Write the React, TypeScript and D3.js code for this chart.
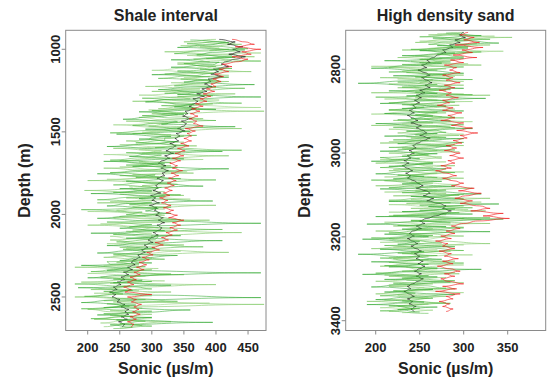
import React from "react";
import * as d3 from "d3";

// ---------- Shale interval (left panel) ----------
const shaleDepthStart = 940;
const shaleDepthStep = 15;
const shaleBlack = [
  405, 430, 418, 442, 426, 438, 420, 446, 430, 415,
  408, 420, 396, 404, 392, 410, 388, 392, 382, 394,
  378, 386, 370, 382, 364, 372, 366, 358, 368, 352,
  356, 348, 362, 346, 354, 350, 340, 352, 338, 344,
  336, 342, 328, 338, 330, 322, 334, 320, 328, 316,
  310, 322, 314, 326, 316, 320, 308, 318, 312, 306,
  310, 302, 314, 298, 306, 300, 312, 296, 308, 304,
  312, 306, 318, 310, 320, 308, 316, 312, 302, 310,
  300, 294, 302, 288, 294, 284, 290, 278, 282, 272,
  268, 274, 262, 270, 256, 264, 252, 258, 246, 252,
  240, 246, 234, 244, 238, 250, 246, 258, 252, 264,
  258, 264, 252, 262, 248, 258, 254,
];
const shaleRed = [
  425, 445, 460, 430, 470, 440, 455, 425, 450, 435,
  410, 425, 405, 420, 398, 412, 395, 408, 392, 400,
  385, 398, 380, 392, 375, 386, 368, 380, 362, 375,
  360, 372, 358, 370, 365, 380, 352, 368, 355, 362,
  350, 362, 345, 358, 340, 352, 336, 350, 332, 345,
  328, 340, 332, 348, 330, 342, 326, 338, 324, 335,
  320, 332, 318, 328, 312, 325, 315, 330, 318, 334,
  322, 340, 326, 350, 332, 345, 328, 340, 322, 332,
  315, 326, 305, 318, 300, 312, 292, 302, 285, 296,
  280, 292, 276, 288, 272, 282, 266, 276, 262, 272,
  256, 268, 258, 300, 262, 276, 268, 284, 272, 280,
  270, 282, 266, 276, 262, 272, 268,
];
const shaleGreen = [
  360, 420, 385, 340, 445, 395, 370, 430, 330, 405,
  395, 330, 410, 365, 300, 420, 380, 350, 460, 360,
  310, 380, 340, 470, 325, 290, 365, 335, 400, 280,
  350, 300, 255, 340, 315, 430, 290, 360, 245, 330,
  280, 340, 300, 230, 320, 410, 295, 265, 350, 225,
  320, 270, 420, 300, 215, 285, 345, 260, 310, 380,
  250, 300, 205, 320, 280, 395, 265, 230, 310, 290,
  330, 270, 215, 300, 470, 285, 250, 320, 205, 345,
  260, 410, 290, 230, 305, 270, 215, 340, 280, 250,
  300, 190, 265, 230, 470, 255, 200, 285, 240, 330,
  185, 270, 235, 300, 470, 240, 190, 275, 225, 360,
  280, 215, 300, 245, 395, 235, 270,
];
const shaleGreen2 = [
  415, 355, 395, 450, 370, 335, 425, 385, 470, 350,
  380, 425, 340, 395, 360, 310, 405, 370, 335, 445,
  360, 320, 395, 285, 350, 440, 315, 370, 300, 355,
  285, 335, 400, 310, 270, 345, 300, 235, 370, 320,
  320, 275, 355, 305, 440, 260, 315, 290, 235, 330,
  260, 340, 290, 235, 305, 275, 400, 290, 240, 315,
  300, 240, 345, 270, 215, 300, 265, 330, 190, 285,
  260, 305, 345, 230, 300, 265, 410, 280, 240, 310,
  305, 245, 280, 380, 255, 300, 240, 275, 320, 230,
  235, 290, 250, 205, 330, 270, 240, 300, 180, 270,
  300, 225, 255, 195, 280, 340, 230, 265, 190, 300,
  225, 270, 205, 290, 250, 300, 240,
];
const shaleLightGreen = [
  400, 350, 440, 375, 420, 320, 410, 460, 365, 390,
  340, 400, 375, 455, 320, 390, 345, 420, 375, 290,
  375, 300, 430, 340, 360, 270, 395, 350, 310, 475,
  300, 345, 380, 260, 325, 295, 440, 315, 270, 350,
  330, 260, 300, 370, 240, 315, 285, 420, 305, 250,
  275, 330, 225, 300, 365, 250, 310, 200, 330, 285,
  310, 195, 290, 350, 260, 305, 215, 400, 280, 245,
  270, 320, 240, 390, 290, 200, 310, 270, 440, 300,
  300, 235, 280, 350, 250, 300, 420, 260, 225, 290,
  245, 280, 180, 300, 255, 350, 220, 275, 190, 400,
  270, 205, 330, 250, 180, 290, 240, 475, 260, 200,
  240, 300, 255, 210, 330, 260, 225,
];
const shaleLightGreen2 = [
  380, 430, 345, 405, 390, 470, 355, 400, 420, 340,
  410, 360, 300, 385, 420, 350, 395, 330, 380, 400,
  330, 365, 280, 350, 405, 320, 345, 470, 295, 330,
  340, 280, 320, 365, 240, 310, 350, 285, 330, 300,
  295, 350, 250, 320, 280, 345, 225, 305, 380, 280,
  310, 250, 305, 355, 270, 320, 230, 295, 340, 265,
  275, 320, 250, 290, 360, 235, 295, 270, 320, 200,
  315, 250, 295, 340, 220, 280, 330, 260, 300, 235,
  270, 320, 230, 290, 260, 345, 280, 240, 300, 270,
  280, 225, 310, 265, 200, 290, 255, 320, 235, 265,
  235, 280, 210, 300, 260, 225, 390, 250, 285, 235,
  275, 235, 300, 260, 220, 285, 250,
];
const shaleXTicks = [200, 250, 300, 350, 400, 450];
const shaleYTicks = [1000, 1500, 2000, 2500];

// ---------- High density sand (right panel) ----------
const sandDepthStart = 2712;
const sandDepthStep = 6;
const sandBlack = [
  300, 295, 302, 290, 296, 284, 288, 276, 280, 270,
  266, 258, 262, 252, 258, 248, 256, 262, 252, 258,
  264, 256, 262, 250, 256, 246, 252, 244, 250, 242,
  246, 238, 244, 236, 242, 248, 240, 252, 246, 254,
  258, 250, 262, 254, 248, 242, 246, 238, 244, 236,
  240, 232, 238, 230, 236, 242, 234, 240, 236, 244,
  248, 254, 246, 258, 262, 254, 266, 258, 272, 280,
  276, 286, 278, 268, 258, 250, 256, 246, 252, 242,
  238, 244, 236, 242, 248, 240, 246, 252, 244, 250,
  246, 254, 248, 256, 250, 244, 252, 246, 254, 248,
  242, 236, 240, 232, 238, 244, 236, 242, 238, 246,
  240, 244,
];
const sandRed = [
  305, 296, 312, 300, 318, 290, 322, 298, 310, 288,
  315, 285, 300, 278, 292, 284, 296, 276, 288, 280,
  296, 278, 290, 272, 286, 280, 294, 276, 284, 270,
  288, 276, 298, 282, 290, 274, 300, 286, 310, 292,
  316, 296, 304, 288, 298, 280, 292, 278, 296, 284,
  300, 282, 290, 274, 286, 268, 280, 292, 276, 288,
  300, 286, 312, 294, 320, 302, 290, 310, 296, 318,
  330, 308, 345, 322, 352, 316, 300, 286, 296, 280,
  290, 274, 286, 268, 282, 276, 290, 272, 286, 278,
  294, 276, 288, 270, 284, 296, 278, 290, 274, 282,
  300, 276, 292, 268, 296, 280, 288, 272, 284, 276,
  288, 280,
];
const sandGreen = [
  280, 320, 265, 300, 340, 270, 305, 250, 290, 230,
  300, 210, 275, 240, 195, 260, 300, 220, 285, 240,
  180, 260, 300, 215, 270, 235, 325, 250, 205, 280,
  230, 300, 210, 265, 240, 285, 200, 255, 310, 235,
  270, 210, 300, 245, 225, 285, 255, 205, 270, 230,
  250, 195, 265, 215, 280, 240, 200, 255, 220, 275,
  230, 290, 205, 260, 320, 240, 300, 215, 340, 260,
  290, 230, 310, 200, 345, 255, 190, 280, 230, 330,
  210, 260, 185, 250, 225, 290, 205, 255, 180, 240,
  275, 195, 260, 215, 320, 240, 185, 270, 210, 285,
  230, 195, 265, 210, 290, 240, 200, 255, 190, 270,
  225, 250,
];
const sandGreen2 = [
  295, 250, 330, 280, 260, 305, 240, 320, 270, 300,
  250, 285, 230, 300, 255, 215, 280, 245, 310, 225,
  270, 230, 285, 245, 310, 200, 265, 290, 230, 255,
  215, 270, 245, 290, 225, 255, 300, 220, 265, 280,
  245, 280, 220, 300, 260, 215, 290, 240, 260, 205,
  225, 265, 240, 205, 255, 290, 225, 270, 195, 250,
  250, 215, 280, 230, 295, 260, 215, 285, 250, 310,
  250, 295, 220, 330, 240, 285, 225, 300, 255, 215,
  265, 195, 240, 275, 210, 260, 300, 225, 270, 205,
  240, 300, 210, 270, 245, 200, 260, 230, 290, 220,
  255, 280, 220, 245, 205, 265, 230, 285, 215, 250,
  205, 260,
];
const sandLightGreen = [
  300, 260, 355, 275, 245, 330, 285, 230, 310, 265,
  225, 290, 250, 320, 215, 270, 235, 300, 205, 265,
  250, 300, 225, 280, 195, 330, 245, 270, 215, 295,
  260, 215, 280, 240, 300, 220, 265, 195, 290, 250,
  225, 295, 240, 260, 205, 300, 230, 270, 215, 255,
  275, 230, 200, 290, 245, 215, 270, 235, 300, 210,
  265, 200, 310, 245, 280, 220, 330, 270, 235, 300,
  240, 325, 265, 215, 300, 240, 330, 220, 265, 200,
  250, 300, 215, 270, 330, 240, 195, 285, 230, 260,
  220, 290, 240, 205, 270, 230, 295, 215, 255, 200,
  265, 215, 290, 230, 200, 280, 245, 190, 260, 225,
  245, 215,
];
const sandLightGreen2 = [
  270, 335, 290, 250, 315, 300, 260, 345, 280, 245,
  275, 240, 305, 195, 280, 230, 265, 290, 225, 300,
  215, 285, 260, 230, 300, 255, 210, 310, 240, 270,
  290, 240, 195, 275, 255, 310, 230, 285, 215, 260,
  300, 235, 275, 215, 290, 250, 225, 295, 240, 275,
  205, 280, 245, 265, 220, 300, 250, 210, 285, 240,
  295, 245, 270, 210, 300, 265, 240, 320, 215, 275,
  305, 215, 280, 250, 320, 210, 275, 300, 235, 290,
  235, 280, 250, 205, 300, 220, 270, 240, 310, 215,
  260, 215, 300, 235, 250, 290, 210, 280, 235, 300,
  215, 255, 240, 300, 225, 260, 210, 280, 240, 205,
  265, 230,
];
const sandXTicks = [200, 250, 300, 350];
const sandYTicks = [2800, 3000, 3200, 3400];

const W = 547;
const H = 382;
const FONT = "'Liberation Sans', Arial, Helvetica, sans-serif";
const TOP = 30.3;
const BOTTOM = 330.5;

// draw order, colour, opacity and half-step depth offset per series
const seriesStyles = [
  { key: "lightgreen", color: "#8ed078", opacity: 0.75, shift: 0, width: 0.9 },
  { key: "lightgreen2", color: "#a6da92", opacity: 0.75, shift: 0.5, width: 0.9 },
  { key: "black", color: "#111111", opacity: 0.6, shift: 0, width: 1 },
  { key: "green", color: "#2aa52a", opacity: 0.6, shift: 0.25, width: 0.9 },
  { key: "green2", color: "#4cb83e", opacity: 0.6, shift: 0.75, width: 0.9 },
  { key: "red", color: "#f01818", opacity: 0.6, shift: 0, width: 1 },
];

type PanelProps = {
  id: string;
  title: string;
  left: number;
  right: number;
  xDomain: [number, number];
  yDomain: [number, number];
  xTicks: number[];
  yTicks: number[];
  depthStart: number;
  depthStep: number;
  data: Record<string, number[]>;
};

function Panel(p: PanelProps) {
  const x = d3.scaleLinear().domain(p.xDomain).range([p.left, p.right]);
  const y = d3.scaleLinear().domain(p.yDomain).range([TOP, BOTTOM]);
  const cx = (p.left + p.right) / 2;
  const cy = (TOP + BOTTOM) / 2;
  return (
    <g>
      <defs>
        <clipPath id={p.id}>
          <rect x={p.left} y={TOP} width={p.right - p.left} height={BOTTOM - TOP} />
        </clipPath>
      </defs>
      <g clipPath={`url(#${p.id})`}>
        {seriesStyles.map((s) => {
          const line = d3
            .line<number>()
            .curve(d3.curveBumpX)
            .x((v) => x(v))
            .y((_, i) => y(p.depthStart + (i + s.shift) * p.depthStep));
          return (
            <path
              key={s.key}
              d={line(p.data[s.key]) || ""}
              fill="none"
              stroke={s.color}
              strokeOpacity={s.opacity}
              strokeWidth={s.width}
              strokeLinejoin="round"
            />
          );
        })}
      </g>
      <rect
        x={p.left}
        y={TOP}
        width={p.right - p.left}
        height={BOTTOM - TOP}
        fill="none"
        stroke="#8a8a8a"
        strokeWidth={1}
      />
      {p.xTicks.map((t) => (
        <g key={"x" + t}>
          <line x1={x(t)} x2={x(t)} y1={BOTTOM} y2={BOTTOM + 4} stroke="#8a8a8a" />
          <text
            x={x(t)}
            y={352}
            textAnchor="middle"
            fontFamily={FONT}
            fontWeight="bold"
            fontSize={13}
            fill="#222"
          >
            {t}
          </text>
        </g>
      ))}
      {p.yTicks.map((t) => (
        <g key={"y" + t}>
          <line x1={p.left - 4} x2={p.left} y1={y(t)} y2={y(t)} stroke="#8a8a8a" />
          <text
            transform={`translate(${p.left - 5.5},${y(t)}) rotate(-90)`}
            textAnchor="middle"
            fontFamily={FONT}
            fontWeight="bold"
            fontSize={13}
            fill="#222"
          >
            {t}
          </text>
        </g>
      ))}
      <text
        x={cx}
        y={20.5}
        textAnchor="middle"
        fontFamily={FONT}
        fontWeight="bold"
        fontSize={16}
        fill="#222"
      >
        {p.title}
      </text>
      <text
        x={cx}
        y={374}
        textAnchor="middle"
        fontFamily={FONT}
        fontWeight="bold"
        fontSize={16}
        fill="#222"
      >
        Sonic (µs/m)
      </text>
      <text
        transform={`translate(${p.left - 36},${cy}) rotate(-90)`}
        textAnchor="middle"
        fontFamily={FONT}
        fontWeight="bold"
        fontSize={16}
        fill="#222"
      >
        Depth (m)
      </text>
    </g>
  );
}

export default function App() {
  return (
    <div style={{ position: "fixed", left: 0, top: 0, width: W, height: H, background: "#fff" }}>
      <svg width={W} height={H} viewBox={`0 0 ${W} ${H}`} style={{ display: "block" }}>
        <rect x={0} y={0} width={W} height={H} fill="#fff" />
        <Panel
          id="clip-shale"
          title="Shale interval"
          left={65.7}
          right={266}
          xDomain={[165.7, 478]}
          yDomain={[885, 2703]}
          xTicks={shaleXTicks}
          yTicks={shaleYTicks}
          depthStart={shaleDepthStart}
          depthStep={shaleDepthStep}
          data={{
            black: shaleBlack,
            red: shaleRed,
            green: shaleGreen,
            green2: shaleGreen2,
            lightgreen: shaleLightGreen,
            lightgreen2: shaleLightGreen2,
          }}
        />
        <Panel
          id="clip-sand"
          title="High density sand"
          left={345.7}
          right={545.7}
          xDomain={[165.9, 393.2]}
          yDomain={[2707, 3423.4]}
          xTicks={sandXTicks}
          yTicks={sandYTicks}
          depthStart={sandDepthStart}
          depthStep={sandDepthStep}
          data={{
            black: sandBlack,
            red: sandRed,
            green: sandGreen,
            green2: sandGreen2,
            lightgreen: sandLightGreen,
            lightgreen2: sandLightGreen2,
          }}
        />
      </svg>
    </div>
  );
}
